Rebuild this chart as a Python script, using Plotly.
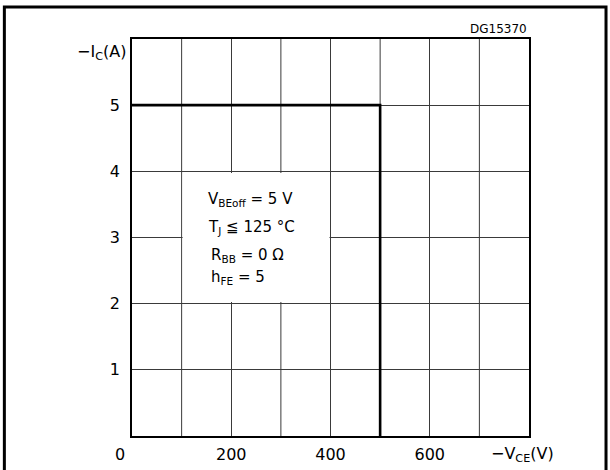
import plotly.graph_objects as go

# Boundary of the safe operating area (RBSOA)
vce_boundary = [0, 500, 500]
ic_boundary = [5, 5, 0]

x_tick_vals = [200, 400, 600]
x_tick_text = ["200", "400", "600"]
y_tick_vals = [1, 2, 3, 4, 5]
y_tick_text = ["1", "2", "3", "4", "5"]

x_grid = [100, 200, 300, 400, 500, 600, 700]

conditions = [
    "V<sub>BEoff</sub> = 5 V",
    "T<sub>J</sub> ≦ 125 °C",
    "R<sub>BB</sub> = 0 Ω",
    "h<sub>FE</sub> = 5",
]
cond_x = [150, 150, 155, 155]
cond_y = [3.58, 3.15, 2.73, 2.39]

FONT = "DejaVu Sans"

fig = go.Figure()
fig.add_trace(go.Scatter(
    x=vce_boundary, y=ic_boundary, mode="lines",
    line=dict(color="black", width=2.6), hoverinfo="skip", showlegend=False,
    cliponaxis=False,
))

fig.update_xaxes(
    range=[0, 800], tickvals=x_tick_vals, ticktext=x_tick_text,
    showgrid=True, gridcolor="#3a3a3a", gridwidth=1, automargin=False,
    showline=True, linecolor="black", linewidth=1.5, mirror=True,
    ticks="", zeroline=False, ticklabelstandoff=3,
    tickfont=dict(family=FONT, size=16, color="black"),
)
fig.update_yaxes(
    range=[0, 6], tickvals=y_tick_vals, ticktext=y_tick_text,
    showgrid=True, gridcolor="#3a3a3a", gridwidth=1, automargin=False,
    showline=True, linecolor="black", linewidth=1.5, mirror=True,
    ticks="", zeroline=False, ticklabelstandoff=7,
    tickfont=dict(family=FONT, size=16, color="black"),
)

# vertical gridlines at every 100 V (axis grid only follows tickvals)
for xv in x_grid:
    if xv not in x_tick_vals:
        fig.add_shape(type="line", xref="x", yref="y", x0=xv, x1=xv, y0=0, y1=6,
                      line=dict(color="#3a3a3a", width=1), layer="between")

# white box behind the conditions text
fig.add_shape(type="rect", xref="x", yref="y", x0=102, x1=398, y0=2.025, y1=3.975,
              fillcolor="white", line=dict(width=0), layer="between")

# outer figure frame
fig.add_shape(type="rect", xref="paper", yref="paper", x0=-0.3215, x1=1.194,
              y0=-0.3, y1=1.0806, line=dict(color="black", width=3), layer="above")

ann = []
for t, cx, cy in zip(conditions, cond_x, cond_y):
    ann.append(dict(x=cx, y=cy, xref="x", yref="y", text=t,
                    showarrow=False, xanchor="left", yanchor="middle",
                    font=dict(family=FONT, size=15, color="black")))
ann.append(dict(x=-0.01, y=1.0, xref="paper", yref="paper", text="−I<sub>C</sub>(A)",
                showarrow=False, xanchor="right", yanchor="middle",
                font=dict(family=FONT, size=16, color="black"), yshift=-13))
ann.append(dict(x=0.983, y=0, xref="paper", yref="paper", text="−V<sub>CE</sub>(V)",
                showarrow=False, xanchor="center", yanchor="middle",
                font=dict(family=FONT, size=16, color="black"), yshift=-18))
ann.append(dict(x=-0.03, y=0, xref="paper", yref="paper", text="0",
                showarrow=False, xanchor="center", yanchor="middle",
                font=dict(family=FONT, size=16, color="black"), yshift=-18))
ann.append(dict(x=1.0, y=1.0, xref="paper", yref="paper", text="DG15370",
                showarrow=False, xanchor="right", yanchor="bottom",
                font=dict(family=FONT, size=12, color="black"), yshift=1))

fig.update_layout(
    width=610, height=470,
    margin=dict(l=132, r=81, t=39, b=34),
    paper_bgcolor="white", plot_bgcolor="white",
    annotations=ann, showlegend=False,
)

fig.write_html("out.html", config={"displayModeBar": False},
               post_script="document.body.style.margin='0';")
